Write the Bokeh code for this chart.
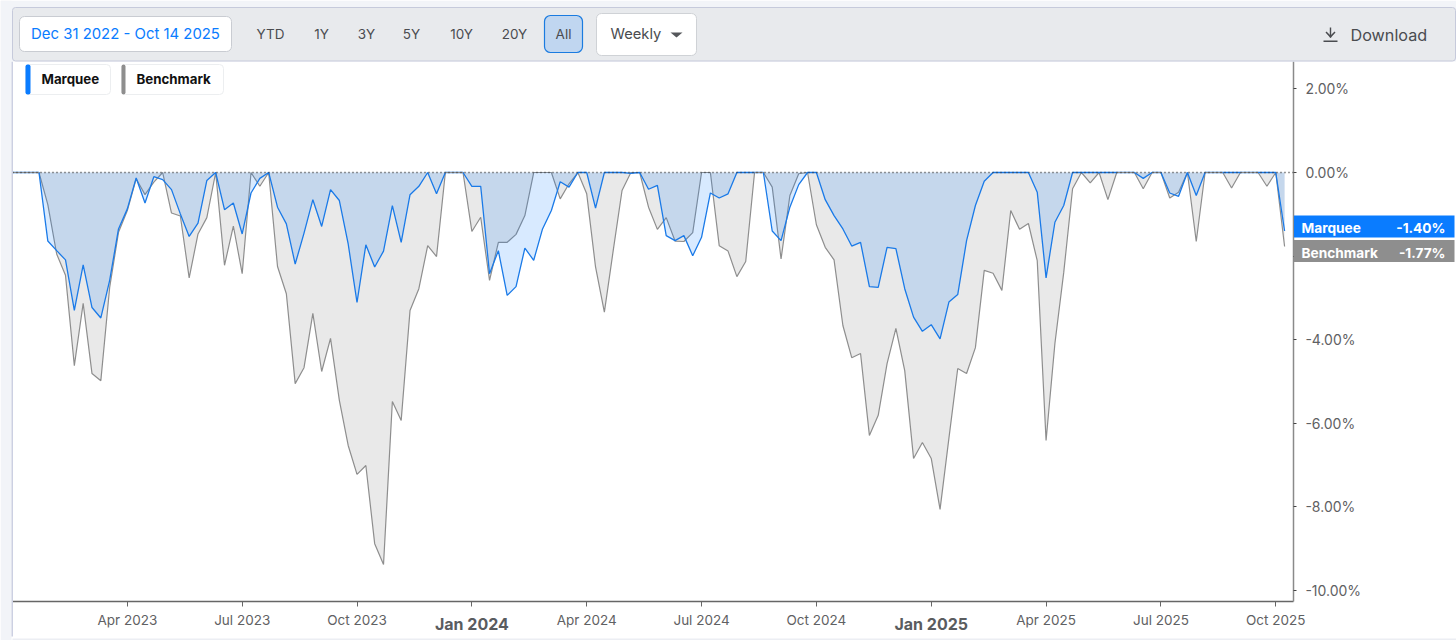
from bokeh.plotting import figure
from bokeh.models import (BoxAnnotation, Label, PolyAnnotation, Range1d, FixedTicker)
from bokeh.embed import file_html
from bokeh.resources import INLINE

FONT = "Inter"

marquee = [
    0, 0, 0, 0, -1.64, -1.87, -2.09, -3.30, -2.21, -3.23,
    -3.48, -2.58, -1.35, -0.87, -0.13, -0.73, -0.10, -0.17, -0.41, -0.99,
    -1.53, -1.21, -0.19, 0, -0.89, -0.73, -1.47, -0.49, -0.14, 0,
    -0.83, -1.23, -2.19, -1.45, -0.65, -1.29, -0.41, -0.67, -1.71, -3.11,
    -1.73, -2.26, -1.88, -0.79, -1.67, -0.53, -0.33, 0, -0.51, 0,
    0, 0, -0.33, -0.33, -2.42, -1.87, -2.94, -2.73, -1.81, -2.10,
    -1.35, -0.91, -0.22, -0.35, 0, 0, -0.85, 0, 0, 0,
    -0.02, 0, -0.40, -0.31, -1.51, -1.63, -1.51, -1.99, -1.55, -0.49,
    -0.61, -0.51, 0, 0, 0, 0, -1.40, -1.63, -0.83, -0.29,
    0, 0, -0.65, -1.03, -1.35, -1.76, -1.67, -2.73, -2.75, -1.79,
    -1.82, -2.78, -3.46, -3.80, -3.64, -3.98, -3.10, -2.92, -1.63, -0.79,
    -0.21, 0, 0, 0, 0, 0, -0.47, -2.52, -1.19, -0.79,
    0, 0, 0, 0, 0, 0, 0, 0, -0.14, 0,
    0, -0.49, -0.57, 0, -0.55, 0, 0, 0, 0, 0,
    0, 0, 0, 0, -1.40,
]
benchmark = [
    0, 0, 0, 0, -0.77, -1.95, -2.46, -4.62, -3.13, -4.81,
    -4.98, -2.75, -1.43, -0.91, -0.15, -0.53, -0.23, 0, -0.97, -1.04,
    -2.52, -1.47, -1.08, 0, -2.22, -1.28, -2.42, 0, -0.33, 0,
    -2.25, -2.90, -5.05, -4.67, -3.37, -4.76, -3.97, -5.45, -6.53, -7.22,
    -7.01, -8.88, -9.38, -5.48, -5.93, -3.30, -2.78, -1.75, -2.01, 0,
    0, 0, -1.41, -1.07, -2.58, -1.67, -1.67, -1.48, -1.03, 0,
    0, 0, -0.63, -0.27, 0, -0.51, -2.26, -3.34, -1.87, -0.43,
    0, 0, -0.83, -1.36, -1.08, -1.64, -1.65, -1.44, 0, 0,
    -1.75, -1.88, -2.49, -2.13, 0, 0, -0.35, -2.07, -0.55, -0.03,
    0, -1.25, -1.79, -2.09, -3.66, -4.43, -4.33, -6.29, -5.81, -4.57,
    -3.73, -4.74, -6.84, -6.46, -6.84, -8.06, -6.36, -4.69, -4.81, -4.19,
    -2.34, -2.41, -2.82, -0.91, -1.36, -1.22, -2.11, -6.41, -4.09, -2.39,
    -0.39, 0, -0.25, 0, -0.65, 0, 0, 0, -0.39, 0,
    0, -0.61, -0.47, 0, -1.65, 0, 0, 0, -0.37, 0,
    0, 0, -0.33, 0, -1.77,
]
weeks = list(range(len(marquee)))

regular_ticks = [13, 26, 39, 65, 78, 91, 117, 130, 143]
regular_labels = ["Apr 2023", "Jul 2023", "Oct 2023", "Apr 2024", "Jul 2024",
                  "Oct 2024", "Apr 2025", "Jul 2025", "Oct 2025"]
year_ticks = [52, 104]
year_labels = ["Jan 2024", "Jan 2025"]
y_ticks = [2, 0, -2, -4, -6, -8, -10]
y_labels = ["2.00%", "0.00%", "-2.00%", "-4.00%", "-6.00%", "-8.00%", "-10.00%"]
range_buttons = ["YTD", "1Y", "3Y", "5Y", "10Y", "20Y", "All"]
button_centres = [270, 321, 366, 411, 461, 514, 563]

BLUE = "#0a7cff"
GREY = "#8e8e8e"
WIDTH, HEIGHT = 1456, 640
AXIS_X = 145          # week at which the value axis stands
AXIS_TOP, AXIS_BOTTOM = 2.656, -10.263   # value extent of the plot area

# The frame fills the whole canvas, so that the header and the value tags are not clipped;
# both axes stand at fixed locations inside it.
p = figure(width=WIDTH, height=HEIGHT, output_backend="svg", toolbar_location=None,
           x_range=Range1d(-1.358, 163.46), y_range=Range1d(-11.196, 4.115),
           y_axis_location="right",
           min_border_left=0, min_border_right=0, min_border_top=0, min_border_bottom=0,
           border_fill_color="white", background_fill_color="white",
           outline_line_color=None)
p.grid.visible = False

zeros = [0] * len(weeks)
p.varea(weeks, y1=zeros, y2=benchmark, fill_color="#e9e9e9", fill_alpha=1)
p.line(weeks, benchmark, line_color=GREY, line_width=1.2)
p.varea(weeks, y1=zeros, y2=marquee, fill_color=BLUE, fill_alpha=0.16)
p.line(weeks, marquee, line_color="#1a7ae8", line_width=1.3)

# where both series sit at zero the benchmark line shows on top
flat = [i for i in weeks[:-1] if marquee[i] == benchmark[i] == marquee[i + 1] == benchmark[i + 1] == 0]
p.segment(x0=flat, y0=[0] * len(flat), x1=[i + 1 for i in flat], y1=[0] * len(flat),
          line_color=GREY, line_width=1.2)
p.segment(x0=[weeks[0]], y0=[0], x1=[AXIS_X], y1=[0], line_color="#333333",
          line_width=1.3, line_dash="1 3")

xa = p.xaxis[0]
xa.fixed_location = AXIS_BOTTOM
xa.bounds = (0, AXIS_X)
xa.ticker = FixedTicker(ticks=sorted(regular_ticks + year_ticks))
xa.major_label_overrides = {**dict(zip(regular_ticks, regular_labels)),
                            **{t: " " for t in year_ticks}}
xa.axis_line_color = "#666666"
xa.axis_line_width = 1.5
xa.major_tick_line_color = "#666666"
xa.major_tick_in = 0
xa.major_tick_out = 5
xa.minor_tick_line_color = None
xa.major_label_standoff = 5
xa.major_label_text_font = FONT
xa.major_label_text_font_size = "13.5px"
xa.major_label_text_color = "#5f6163"

ya = p.yaxis[0]
ya.fixed_location = AXIS_X
ya.bounds = (AXIS_BOTTOM, AXIS_TOP)
ya.ticker = FixedTicker(ticks=y_ticks)
ya.major_label_overrides = dict(zip(y_ticks, y_labels))
ya.axis_line_color = "#8a8a8a"
ya.axis_line_width = 1.5
ya.major_tick_line_color = "#444444"
ya.major_tick_in = 0
ya.major_tick_out = 3
ya.minor_tick_line_color = None
ya.major_label_standoff = 9
ya.major_label_text_font = FONT
ya.major_label_text_font_size = "14px"
ya.major_label_text_color = "#5f6163"


def box(x0, y0, x1, y1, fill, line=None, radius=0, lw=1):
    p.add_layout(BoxAnnotation(left=x0, right=x1, top=y0, bottom=y1, level="overlay",
                               left_units="canvas", right_units="canvas",
                               top_units="canvas", bottom_units="canvas",
                               fill_color=fill, fill_alpha=1,
                               line_color=line, line_width=lw, line_alpha=1 if line else 0,
                               border_radius=radius))


def text(x, y, s, size, color="#4a4c50", style="normal", align="left"):
    p.add_layout(Label(x=x, y=y, x_units="canvas", y_units="canvas", text=s, level="overlay",
                       text_font=FONT, text_font_size=f"{size}px", text_color=color,
                       text_font_style=style, text_align=align, text_baseline="middle"))


def poly(xs, ys, fill):
    p.add_layout(PolyAnnotation(xs=xs, ys=ys, level="overlay",
                                xs_units="canvas", ys_units="canvas",
                                fill_color=fill, fill_alpha=1, line_color=None))


# page edge strip and header bar
box(0, 0, 11, 640, "#f2f4f8")
box(11, 61, 12.5, 636, "#ccd0e2")
box(12, 638, 1456, 640, "#eceef3")
box(0, 0, 1456, 61, "#f2f4f8")
box(12, 7, 1455, 60.5, "#e8eaed", "#c6cadb", 3)

box(19, 16, 231, 51, "white", "#c9ccd2", 5)
text(125, 33.5, "Dec 31 2022 - Oct 14 2025", 14.9, BLUE, align="center")

box(544, 15, 582, 52, "#c0d6f0", "#1a7be0", 6, 1.2)
for cx, s in zip(button_centres, range_buttons):
    text(cx, 33.5, s, 13.5, "#4a4c50", align="center")

box(596, 13, 696, 55, "white", "#cfd2d6", 5)
text(610, 33.5, "Weekly", 14.7, "#4a4c50")
poly([670, 682, 676], [32, 32, 37], "#55575b")

# download icon and text
box(1323, 40, 1337, 41.5, "#4a4c50")
box(1329.3, 27, 1330.7, 37, "#4a4c50")
poly([1325, 1326, 1330, 1334, 1335, 1330], [32, 31, 35, 31, 32, 37.5], "#4a4c50")
text(1350, 34, "Download", 16.2, "#4a4c50")

# legend chips
box(25, 64, 110, 94, "white", "#eceef0", 4)
box(25, 64, 30, 94, BLUE, None, 2)
text(41, 78.5, "Marquee", 13.3, "#111111", "bold")
box(121, 64, 223, 94, "white", "#eceef0", 4)
box(121, 64, 125, 94, GREY, None, 2)
text(136, 78.5, "Benchmark", 13.3, "#111111", "bold")

# last value tags
box(1293.5, 215, 1454, 237, BLUE)
text(1301, 227.5, "Marquee", 13.7, "white", "bold")
text(1445, 227.5, "-1.40%", 13.7, "white", "bold", "right")
box(1293.5, 239.5, 1454, 261.5, GREY)
text(1301, 252, "Benchmark", 13.7, "white", "bold")
text(1445, 252, "-1.77%", 13.7, "white", "bold", "right")

# year labels on the time axis, heavier than the quarter labels
for t, s in zip(year_ticks, year_labels):
    p.add_layout(Label(x=t, y=623, x_units="data", y_units="canvas", text=s, level="overlay",
                       text_font=FONT, text_font_size="16px", text_font_style="bold",
                       text_color="#5a5c5f", text_align="center", text_baseline="middle"))

open("out.html", "w").write(file_html(p, INLINE))
